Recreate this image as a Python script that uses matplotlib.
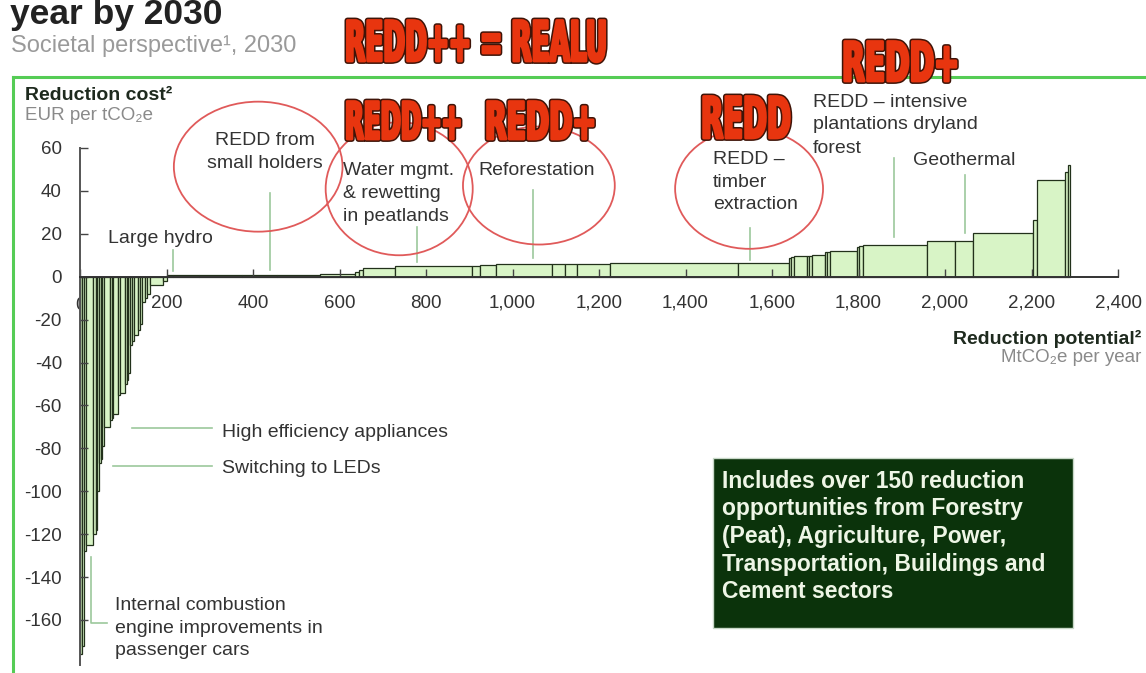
import matplotlib
matplotlib.use('Agg')
import numpy as np
import matplotlib.pyplot as plt
from matplotlib import font_manager
from matplotlib.colors import to_rgba
from matplotlib.patches import Ellipse, Rectangle
from matplotlib.lines import Line2D
from matplotlib.patheffects import AbstractPathEffect
from matplotlib.transforms import Affine2D

# cost curve levers, left to right
# width = reduction potential (MtCO2e per year), height = cost (EUR per tCO2e)
widths = [4, 5, 4, 18, 5, 4, 4, 4, 4, 4, 13, 4, 4, 11, 5, 11, 4, 4, 4, 5, 4, 10,
          4, 4, 8, 5, 6, 30, 8,
          15, 60, 100, 80, 100, 80, 10, 10,
          73, 178, 19, 38, 128, 30, 27, 77, 297, 118,
          4, 6, 31, 4, 8, 30, 5, 6, 63, 5, 8, 148, 65, 42, 139, 9, 64, 7, 5]
costs = [-176, -172, -128, -125, -120, -118, -100, -87, -85, -79, -70, -67, -66, -64,
         -55, -54, -50, -48, -45, -32, -30, -27, -25, -22, -12, -10, -8, -4, -2,
         0.8, 0.6, 0.8, 0.9, 1.0, 1.2, 2.0, 3.0,
         4.0, 5.0, 5.2, 5.3, 5.9, 5.9, 5.9, 5.9, 6.5, 6.5,
         8.5, 9.0, 9.6, 9.8, 9.8, 10.0, 11.5, 11.7, 12.1, 14.0, 14.3, 14.6, 16.5, 16.8,
         20.2, 26.4, 45.0, 49.0, 52.0]

x_ticks = [0, 200, 400, 600, 800, 1000, 1200, 1400, 1600, 1800, 2000, 2200, 2400]
x_labels = ['0', '200', '400', '600', '800', '1,000', '1,200', '1,400', '1,600',
            '1,800', '2,000', '2,200', '2,400']
y_ticks = [60, 40, 20, 0, -20, -40, -60, -80, -100, -120, -140, -160]

W, H = 1146, 673
installed = {f.name for f in font_manager.fontManager.ttflist}
plt.rcParams['font.family'] = ['Liberation Sans', 'DejaVu Sans']
plt.rcParams['axes.unicode_minus'] = False

fig = plt.figure(figsize=(W / 100, H / 100), dpi=100)


def fx(px):
    return px / W


def fy(py):
    return 1 - py / H


ax = fig.add_axes([fx(80), fy(665), fx(1118) - fx(80), fy(148) - fy(665)])
ax.set_xlim(0, 2400)
ax.set_ylim(-181, 60)

lefts = np.concatenate([[0], np.cumsum(widths)[:-1]])
ax.bar(lefts, costs, width=widths, align='edge', color='#d8f4c6',
       edgecolor='#22311b', linewidth=0.9, zorder=1.2)

for s in ['top', 'right']:
    ax.spines[s].set_visible(False)
ax.spines['bottom'].set_position(('data', 0))
ax.spines['bottom'].set_color('#333333')
ax.spines['left'].set_color('#555555')
ax.spines['bottom'].set_linewidth(1.4)
ax.spines['left'].set_linewidth(1.4)

ax.set_xticks(x_ticks)
ax.set_xticklabels([''] + x_labels[1:])
ax.set_yticks(y_ticks)
ax.tick_params(axis='both', direction='in', length=6, width=1, colors='#444444',
               labelsize=13.5, labelcolor='#333333', pad=13)
# "0" sits under the first bars
ax.text(x_ticks[0], -13.2, x_labels[0], ha='center', va='center', fontsize=13.5,
        color='#333333', zorder=1)

lead = dict(color='#9cc89c', lw=1.2, clip_on=False, zorder=3)
note = dict(fontsize=14, color='#333333', zorder=4, clip_on=False, linespacing=1.45)
ring = dict(fill=False, ec='#e05a5a', lw=1.3, clip_on=False, zorder=3)

# labelled levers
ax.text(65, 18, 'Large hydro', ha='left', va='center', **note)
ax.plot([215, 215], [12.4, 2.5], **lead)

ax.text(428, 58.0, 'REDD from\nsmall holders', ha='center', va='center',
        multialignment='center', **note)
ax.plot([439, 439], [39, 3], **lead)
ax.add_patch(Ellipse((412, 51.3), 390, 60.6, **ring))

ax.text(608, 38.9, 'Water mgmt.\n& rewetting\nin peatlands', ha='left', va='center', **note)
ax.plot([779, 779], [23.1, 6.9], **lead)
ax.add_patch(Ellipse((738, 41.0), 340, 62, **ring))

ax.text(920, 49.7, 'Reforestation', ha='left', va='center', **note)
ax.plot([1047, 1047], [40.3, 8.7], **lead)
ax.add_patch(Ellipse((1061, 42.5), 351, 55, **ring))

ax.text(1464, 44.1, 'REDD \u2013\ntimber\nextraction', ha='left', va='center', **note)
ax.plot([1549, 1549], [22.7, 7.8], **lead)
ax.add_patch(Ellipse((1547, 41.0), 342, 56, **ring))

ax.text(1695, 76.1, 'REDD \u2013 intensive\nplantations dryland', ha='left',
        va='center', **note)
ax.text(1695, 59.8, 'forest', ha='left', va='center', **note)
ax.plot([1882, 1882], [55.3, 18.5], **lead)

ax.text(1926, 54.4, 'Geothermal', ha='left', va='center', **note)
ax.plot([2046, 2046], [47.5, 20.4], **lead)

ax.text(328, -72.4, 'High efficiency appliances', ha='left', va='center', **note)
ax.plot([119.5, 304.5], [-70.7, -70.7], **lead)

ax.text(328, -89.2, 'Switching to LEDs', ha='left', va='center', **note)
ax.plot([77, 304.5], [-88.3, -88.3], **lead)

ax.text(81, -163.8, 'Internal combustion\nengine improvements in\npassenger cars',
        ha='left', va='center', **note)
ax.plot([24.7, 24.7, 61.7], [-130.5, -161.3, -161.3], **lead)

# headings
fig.text(fx(10), fy(24), 'year by 2030', fontsize=25.5, fontweight='bold', color='#222222',
         va='baseline')
fig.text(fx(11), fy(46), 'Societal perspective\u00b9, 2030', fontsize=17, color='#9a9a9a',
         va='center')
fig.text(fx(25), fy(96), 'Reduction cost\u00b2', fontsize=14, fontweight='bold',
         color='#1e2a1e', va='center')
fig.text(fx(25), fy(115), 'EUR per tCO\u2082e', fontsize=13.5, color='#8a8a8a', va='center')
fig.text(fx(1141), fy(339), 'Reduction potential\u00b2', fontsize=14, fontweight='bold',
         color='#1e2a1e', va='center', ha='right')
fig.text(fx(1141), fy(358), 'MtCO\u2082e per year', fontsize=13.5, color='#8a8a8a',
         va='center', ha='right')

# green frame round the chart
fig.add_artist(Line2D([fx(13), fx(13)], [fy(77), 0], color='#55cc55', lw=2.2))
fig.add_artist(Line2D([fx(13), 1], [fy(77), fy(77)], color='#55cc55', lw=2.2))

# note box
fig.add_artist(Rectangle((fx(713), fy(628)), fx(1073) - fx(713), fy(458) - fy(628),
                         transform=fig.transFigure, fc='#0b330b', ec='#c8d8c8', lw=1))
fig.text(fx(722), fy(470), 'Includes over 150 reduction\nopportunities from Forestry\n'
         '(Peat), Agriculture, Power,\nTransportation, Buildings and\nCement sectors',
         fontsize=16.5, fontweight='bold', color='#eef6e6', va='top', ha='left',
         linespacing=1.25)


# big red stamps: stretch the glyphs upward from the baseline, fatten and outline them
class Stretch(AbstractPathEffect):
    def __init__(self, y0, sy, passes):
        super().__init__()
        self.y0, self.sy, self.passes = y0, sy, passes

    def draw_path(self, renderer, gc, tpath, affine, rgbFace=None):
        st = Affine2D().translate(0, -self.y0).scale(1, self.sy).translate(0, self.y0)
        for colour, lw in self.passes:
            gc0 = renderer.new_gc()
            gc0.copy_properties(gc)
            gc0.set_foreground(colour)
            gc0.set_linewidth(lw)
            gc0.set_joinstyle('round')
            renderer.draw_path(gc0, tpath, affine + st, to_rgba(colour))
            gc0.restore()


stamp_font = 'Liberation Sans Narrow' if 'Liberation Sans Narrow' in installed else 'DejaVu Sans'
# text, left px, right px, cap top px, baseline px
stamps = [('REDD++ = REALU', 345, 607, 21, 61),
          ('REDD++', 345, 462, 102, 139),
          ('REDD+', 485, 596, 102, 139),
          ('REDD', 701, 791, 97, 138),
          ('REDD+', 842, 959, 42, 81)]
stamp_texts = []
for txt, x0, x1, top, base in stamps:
    t = fig.text(fx(x0), fy(base), txt, fontsize=30, fontweight='bold',
                 family=stamp_font, color='#e8350f', va='baseline', ha='left', zorder=6)
    stamp_texts.append((t, x0, x1, top, base))

fig.canvas.draw()
renderer = fig.canvas.get_renderer()
for t, x0, x1, top, base in stamp_texts:
    # size the text to its width, then stretch it to its height
    bb = t.get_window_extent(renderer)
    size = 30 * (x1 - x0) / bb.width
    t.set_fontsize(size)
    cap_px = 0.72 * size * 100 / 72
    t.set_path_effects([Stretch(H - base, (base - top) / cap_px,
                                [('#3f1408', 4.2), ('#e8350f', 2.0)])])

fig.savefig('out.png', dpi=100)
